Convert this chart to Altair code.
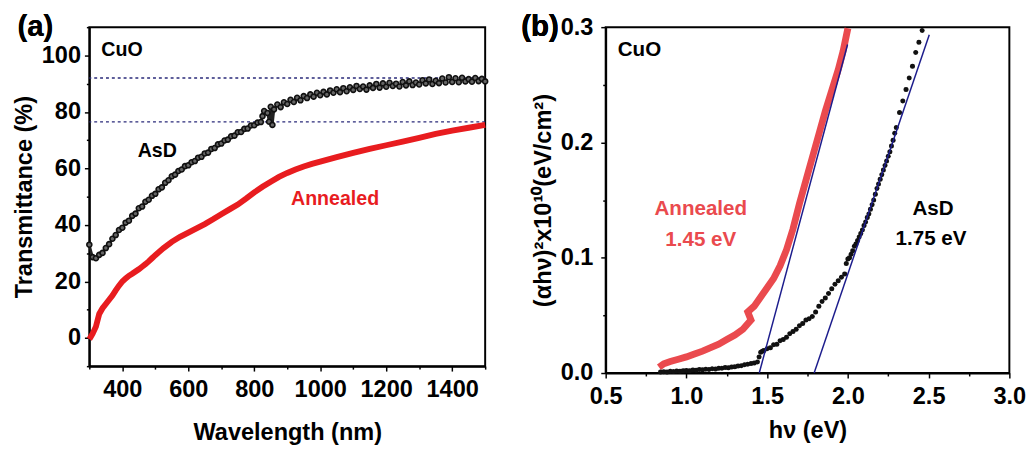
import altair as alt
import pandas as pd

FONT = "Liberation Sans"
RED_A = "#e81c1f"
RED_B = "#ea4a4e"
NAVY = "#1c1c8c"
DASH = "#2a2a7a"

# ---------------- panel (a): transmittance ----------------
asd_a_wl = [300, 310, 320, 330, 340, 350, 360, 370, 380, 390, 400, 410, 420, 430, 440,
            450, 460, 470, 480, 490, 500, 510, 520, 530, 540, 550, 560, 570, 580, 590,
            600, 610, 620, 630, 640, 650, 660, 670, 680, 690, 700, 710, 720, 730, 740,
            750, 760, 770, 780, 790, 800, 810, 820, 825, 830, 840, 845, 850, 855, 860,
            870, 880, 890, 900, 910, 920, 930, 940, 950, 960, 970, 980, 990, 1000,
            1010, 1020, 1030, 1040, 1050, 1060, 1070, 1080, 1090, 1100, 1110, 1120,
            1130, 1140, 1150, 1160, 1170, 1180, 1190, 1200, 1210, 1220, 1230, 1240,
            1250, 1260, 1270, 1280, 1290, 1300, 1310, 1320, 1330, 1340, 1350, 1360,
            1370, 1380, 1390, 1400, 1410, 1420, 1430, 1440, 1450, 1460, 1470, 1480,
            1490, 1500]
asd_a_t = [33.0, 28.6, 28.2, 29.4, 30.1, 31.8, 33.2, 35.1, 36.4, 38.2, 39.0, 40.8, 41.5, 43.2, 44.0,
           45.9, 46.5, 48.2, 48.9, 50.3, 51.0, 52.6, 53.3, 54.9, 55.8, 57.2, 57.8, 59.1, 59.6, 60.8,
           61.1, 62.2, 62.6, 63.8, 64.1, 65.3, 65.6, 66.9, 67.2, 68.5, 68.8, 69.9, 70.2, 71.4, 71.6,
           72.8, 72.9, 74.0, 74.1, 75.2, 75.3, 76.2, 76.4, 78.5, 80.3, 79.6, 76.5, 81.8, 75.4, 80.9,
           82.6, 81.7, 83.4, 82.8, 84.3, 83.5, 85.0, 84.1, 85.6, 84.9, 86.2, 85.4, 86.8, 85.9,
           87.1, 86.2, 87.6, 86.8, 88.0, 87.0, 88.4, 87.3, 88.7, 87.8, 89.2, 88.1,
           89.0, 87.9, 89.4, 88.5, 89.9, 88.6, 90.1, 88.9, 90.3, 89.2, 90.0, 89.0,
           90.6, 89.4, 90.8, 89.5, 90.4, 89.7, 91.2, 90.1, 91.5, 89.9, 91.0, 90.2,
           91.8, 90.4, 92.3, 90.6, 91.9, 90.5, 92.1, 90.8, 91.6, 90.7, 92.0, 90.9,
           91.7, 90.8]
ann_a_wl = [300, 305, 310, 320, 330, 340, 350, 360, 370, 380, 390, 400, 410, 420, 430, 440,
            450, 460, 470, 480, 490, 500, 525, 550, 575, 600, 625, 650, 675, 700, 725, 750,
            775, 800, 825, 850, 875, 900, 925, 950, 975, 1000, 1050, 1100, 1150, 1200,
            1250, 1300, 1350, 1400, 1450, 1500]
ann_a_t = [-0.5, 0.5, 1.5, 4.0, 8.5, 10.5, 12.0, 13.5, 15.0, 16.8, 18.5, 20.0, 21.0, 22.0, 22.7, 23.5,
           24.3, 25.2, 26.1, 27.1, 28.2, 29.3, 31.8, 34.0, 35.8, 37.3, 38.8, 40.3, 42.0, 43.8, 45.5, 47.2,
           49.3, 51.5, 53.5, 55.3, 57.0, 58.4, 59.6, 60.7, 61.6, 62.4, 64.0, 65.5, 66.9, 68.2,
           69.5, 70.8, 72.2, 73.4, 74.4, 75.4]
ref_lines_t = [92.0, 76.5]

a_text = ["CuO", "AsD", "Annealed"]
a_text_x = [399, 506, 1045]
a_text_y = [101.7, 66.0, 49.0]

# ---------------- panel (b): Tauc plot ----------------
ann_b_ev = [0.83, 0.86, 0.90, 0.95, 1.00, 1.05, 1.10, 1.15, 1.20, 1.25, 1.30, 1.35, 1.40,
            1.38, 1.42, 1.46, 1.50, 1.54, 1.58, 1.62, 1.66, 1.70, 1.74, 1.78, 1.82, 1.86,
            1.90, 1.94, 1.97, 2.00]
ann_b_y = [0.005, 0.008, 0.010, 0.012, 0.014, 0.0165, 0.019, 0.022, 0.025, 0.029, 0.033, 0.038, 0.046,
           0.053, 0.058, 0.066, 0.074, 0.082, 0.093, 0.107, 0.125, 0.147, 0.167, 0.187, 0.207, 0.227,
           0.245, 0.263, 0.279, 0.299]
asd_b_ev = [0.84, 0.86, 0.88, 0.90, 0.92, 0.94, 0.96, 0.98, 1.00, 1.02, 1.04, 1.06, 1.08, 1.10,
            1.12, 1.14, 1.16, 1.18, 1.20, 1.22, 1.24, 1.26, 1.28, 1.30, 1.32, 1.34, 1.36, 1.38,
            1.40, 1.42, 1.44,
            1.45, 1.46, 1.47, 1.48, 1.50, 1.52, 1.54, 1.56, 1.58, 1.60, 1.62, 1.64, 1.66, 1.68,
            1.70, 1.72, 1.74, 1.76, 1.78, 1.80, 1.82, 1.84, 1.86, 1.88, 1.90, 1.92, 1.94, 1.96, 1.98,
            1.99, 2.00, 2.01, 2.02, 2.03, 2.04, 2.05, 2.06, 2.07, 2.08, 2.09, 2.10, 2.11, 2.12,
            2.13, 2.14, 2.15, 2.16, 2.17, 2.18, 2.19, 2.20, 2.21, 2.22, 2.23, 2.24, 2.25, 2.26,
            2.27, 2.28, 2.29, 2.30,
            2.32, 2.34, 2.36, 2.38, 2.40, 2.42, 2.44, 2.46]
asd_b_y = [0.0010, 0.0012, 0.0010, 0.0015, 0.0013, 0.0018, 0.0016, 0.0020, 0.0022, 0.0020, 0.0026,
           0.0024, 0.0030, 0.0028, 0.0033, 0.0031, 0.0037, 0.0036, 0.0042, 0.0041, 0.0047, 0.0046,
           0.0053, 0.0055, 0.0061, 0.0064, 0.0072, 0.0076, 0.0083, 0.0088, 0.0095,
           0.0140, 0.0180, 0.0190, 0.0195, 0.0210, 0.0220, 0.0245, 0.0250, 0.0280, 0.0290, 0.0310,
           0.0340, 0.0360, 0.0380, 0.0410, 0.0430, 0.0460, 0.0470, 0.0490, 0.0530, 0.0580, 0.0620,
           0.0650, 0.0690, 0.0730, 0.0770, 0.0800, 0.0830, 0.0860,
           0.0950, 0.0990, 0.1000, 0.1030, 0.1060, 0.1100, 0.1120, 0.1150, 0.1180, 0.1210, 0.1240,
           0.1280, 0.1310, 0.1350, 0.1380, 0.1420, 0.1460, 0.1500, 0.1550, 0.1600, 0.1640, 0.1680,
           0.1720, 0.1760, 0.1800, 0.1840, 0.1880, 0.1920, 0.1970, 0.2020, 0.2080, 0.2130,
           0.2260, 0.2360, 0.2460, 0.2560, 0.2660, 0.2780, 0.2870, 0.2970]
fit_ann_ev = [1.451, 1.998]
fit_ann_y = [0.0, 0.285]
fit_asd_ev = [1.791, 2.504]
fit_asd_y = [0.0, 0.2935]

b_text = ["CuO", "Annealed", "1.45 eV", "AsD", "1.75 eV"]
b_text_x = [0.709, 1.089, 1.089, 2.527, 2.515]
b_text_y = [0.280, 0.1424, 0.1154, 0.1424, 0.1163]
b_text_color = ["black", RED_B, RED_B, "black", "black"]

# ---------------- axes ----------------
def make_axis(values, major_test, label_expr, title, title_pad, label_pad, flush=False):
    return alt.Axis(
        values=values,
        labelExpr=label_expr,
        labelOverlap=False,
        labelFlush=flush,
        tickSize={"condition": {"test": major_test, "value": 5}, "value": 3},
        title=title,
        titlePadding=title_pad,
        labelPadding=label_pad,
        titleFontWeight="bold",
    )

xa_axis = make_axis(list(range(300, 1501, 100)), "datum.value % 200 === 0",
                    "datum.value % 200 === 0 ? format(datum.value, 'd') : ''", "Wavelength (nm)", 20, 7)
ya_axis = make_axis(list(range(-10, 111, 10)), "datum.value % 20 === 0",
                    "datum.value % 20 === 0 ? format(datum.value, 'd') : ''", "Transmittance (%)", 5, 4)
xb_vals = [0.5, 0.75, 1.0, 1.25, 1.5, 1.75, 2.0, 2.25, 2.5, 2.75, 3.0]
yb_vals = [0.0, 0.05, 0.1, 0.15, 0.2, 0.25, 0.3]
xb_axis = make_axis(xb_vals, "round(datum.value*100) % 50 === 0",
                    "round(datum.value*100) % 50 === 0 ? format(datum.value, '.1f') : ''",
                    "h\u03bd (eV)", 11, 7)
yb_axis = make_axis(yb_vals, "round(datum.value*100) % 10 === 0",
                    "round(datum.value*100) % 10 === 0 ? format(datum.value, '.1f') : ''",
                    "(\u03b1h\u03bd)\u00b2x10\u00b9\u2070(eV/cm\u00b2)", 5, 8)

xa = alt.X("x:Q", scale=alt.Scale(domain=[300, 1500], nice=False, zero=False), axis=xa_axis)
ya = alt.Y("y:Q", scale=alt.Scale(domain=[-10, 110], nice=False, zero=False), axis=ya_axis)
xb = alt.X("x:Q", scale=alt.Scale(domain=[0.5, 3.0], nice=False, zero=False), axis=xb_axis)
yb = alt.Y("y:Q", scale=alt.Scale(domain=[0, 0.3], nice=False, zero=False), axis=yb_axis)

# ---------------- panel (a) layers ----------------
df_asd_a = pd.DataFrame({"x": asd_a_wl, "y": asd_a_t, "i": range(len(asd_a_wl))})
df_ann_a = pd.DataFrame({"x": ann_a_wl, "y": ann_a_t, "i": range(len(ann_a_wl))})
df_ref = pd.DataFrame({"y": ref_lines_t})
df_txt_a = pd.DataFrame({"x": a_text_x, "y": a_text_y, "t": a_text})

ref = alt.Chart(df_ref).mark_rule(color=DASH, strokeDash=[3, 3], strokeWidth=1.3).encode(y=ya)
ann_a = alt.Chart(df_ann_a).mark_line(color=RED_A, strokeWidth=6).encode(x=xa, y=ya, order="i:Q")
asd_a_line = alt.Chart(df_asd_a).mark_line(color="#222222", strokeWidth=2.5).encode(x=xa, y=ya, order="i:Q")
asd_a = alt.Chart(df_asd_a).mark_point(shape="circle", filled=True, fill="#666666", stroke="#111111",
                                       size=26, strokeWidth=1.6, opacity=1).encode(x=xa, y=ya)
txt_a = alt.Chart(df_txt_a).mark_text(font=FONT, fontWeight="bold", fontSize=20).encode(
    x=xa, y=ya, text="t:N",
    color=alt.Color("t:N", scale=alt.Scale(domain=a_text, range=["black", "black", RED_A]), legend=None),
)
lab_a = alt.Chart(df_ref).mark_text(text="(a)", font=FONT, fontWeight="bold", fontSize=30,
                                    color="black").encode(x=alt.value(-55), y=alt.value(0.5))

panel_a = alt.layer(ref, ann_a, asd_a_line, asd_a, txt_a, lab_a).properties(width=404, height=346)

# ---------------- panel (b) layers ----------------
df_ann_b = pd.DataFrame({"x": ann_b_ev, "y": ann_b_y, "i": range(len(ann_b_ev))})
df_asd_b = pd.DataFrame({"x": asd_b_ev, "y": asd_b_y})
df_fit = pd.DataFrame({"x": fit_ann_ev + fit_asd_ev, "y": fit_ann_y + fit_asd_y,
                       "g": ["ann", "ann", "asd", "asd"]})
df_txt_b = pd.DataFrame({"x": b_text_x, "y": b_text_y, "t": b_text, "c": b_text_color})

ann_b = alt.Chart(df_ann_b).mark_line(color=RED_B, strokeWidth=7).encode(x=xb, y=yb, order="i:Q")
asd_b = alt.Chart(df_asd_b).mark_circle(color="#111111", size=26, opacity=1).encode(x=xb, y=yb)
fit_b = alt.Chart(df_fit).mark_line(color=NAVY, strokeWidth=1.5).encode(x=xb, y=yb, detail="g:N")
txt_b = alt.Chart(df_txt_b).mark_text(font=FONT, fontWeight="bold", fontSize=21).encode(
    x=xb, y=yb, text="t:N", color=alt.Color("c:N", scale=None),
)
lab_b = alt.Chart(df_fit).mark_text(text="(b)", font=FONT, fontWeight="bold", fontSize=30,
                                    color="black").encode(x=alt.value(-67), y=alt.value(0.5))

panel_b = alt.layer(ann_b, asd_b, fit_b, txt_b, lab_b).properties(width=412, height=353)

chart = (
    alt.hconcat(panel_a, panel_b, spacing=22)
    .properties(padding={"left": 3, "top": -1, "right": 0, "bottom": 0}, background="white")
    .configure_view(stroke="black", strokeWidth=2)
    .configure_axis(
        domainColor="black", domainWidth=2, tickColor="black", tickWidth=1.5, grid=False,
        labelFont=FONT, labelFontSize=24, labelFontWeight="bold", labelColor="black",
        titleFont=FONT, titleFontSize=24, titleColor="black",
    )
)

chart.save("out.html", embed_options={"renderer": "svg", "actions": False})
